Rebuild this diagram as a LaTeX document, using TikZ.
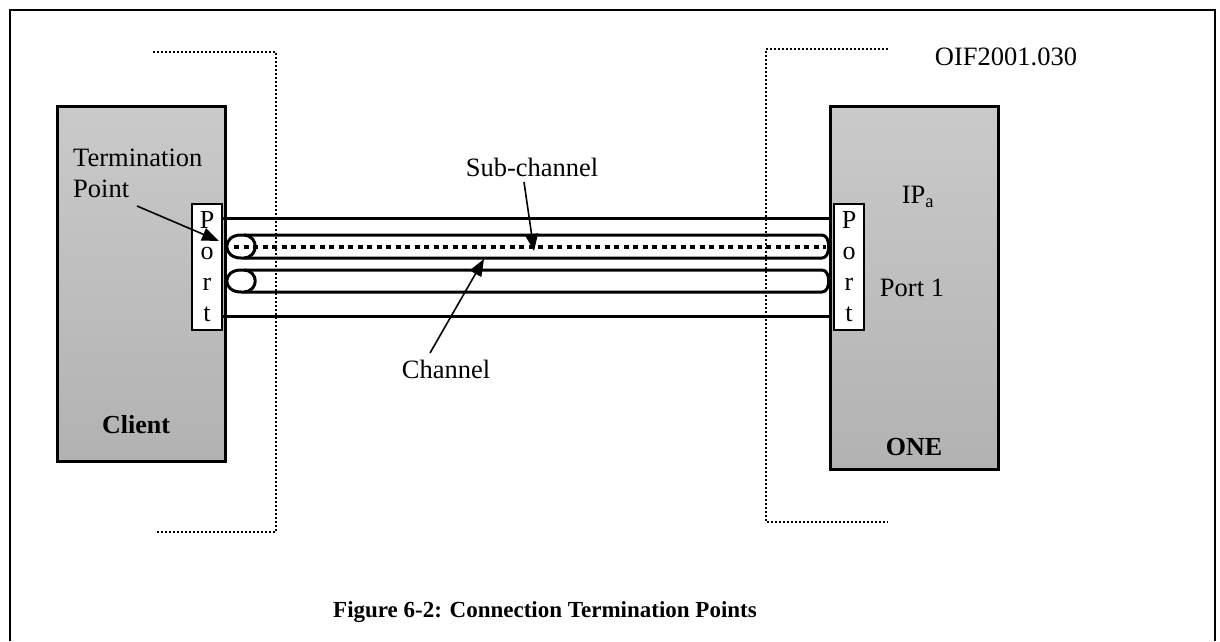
\documentclass[tikz,border=0pt]{standalone}
\usepackage{fontspec}
\setmainfont{Liberation Serif}
\usetikzlibrary{arrows.meta}
\definecolor{boxtop}{RGB}{202,202,202}
\definecolor{boxbot}{RGB}{178,178,178}
\begin{document}
\begin{tikzpicture}[x=1pt,y=-1pt,
  lbl/.style={font=\fontsize{26.5}{31}\selectfont, inner sep=0pt},
  bold/.style={font=\fontsize{26}{31}\selectfont\bfseries, inner sep=0pt},
  devbox/.style={draw, line width=3pt, top color=boxtop, bottom color=boxbot, inner sep=0pt},
  portbox/.style={draw, line width=1.6pt, fill=white, minimum width=30pt, minimum height=126pt, inner sep=0pt, align=center, font=\fontsize{26}{31}\selectfont},
  bound/.style={line width=1.8pt, dash pattern=on 2pt off 2pt},
  link/.style={line width=3pt},
  tube/.style={line width=3pt, line join=round},
  subch/.style={line width=4pt, dash pattern=on 5pt off 4.5pt},
  callout/.style={line width=1.6pt, -{Triangle[length=17pt,width=13pt]}},
  frame/.style={line width=2pt}]
\useasboundingbox (0,0) rectangle (1220,641);
% outer frame
\draw[frame] (10,641) -- (10,10) -- (1215,10) -- (1215,641);
% boundaries
\draw[bound] (153,52) -- (276,52) -- (276,532) -- (155,532);
\draw[bound] (888,49) -- (766,49) -- (766,522) -- (888,522);
% devices
\node[devbox, minimum width=168pt, minimum height=355pt] (client) at (141,283.5) {};
\node[devbox, minimum width=168pt, minimum height=363pt] (one) at (914,287.5) {};
\node[portbox] (lport) at (207,267) {P\\o\\r\\t};
\node[portbox] (rport) at (849,267) {P\\o\\r\\t};
% outer channel lines
\draw[link] (lport.east |- 0,218) -- (one.west |- 0,218);
\draw[link] (lport.east |- 0,316) -- (one.west |- 0,316);
% tubes
\foreach \yt/\yb in {235/258, 270/292}{
  \draw[tube] (241,\yt) -- (822,\yt) .. controls (831,\yt) and (831,\yb) .. (822,\yb) -- (241,\yb)
     .. controls (222,\yb) and (222,\yt) .. (241,\yt) -- cycle;
  \draw[tube] (244,\yt) .. controls (259,\yt+1) and (259,\yb-1) .. (244,\yb);
}
\draw[subch] (234,246.5) -- (826,246.5);
% labels
\node[lbl, align=left, anchor=west] (tp) at (73,173.5) {Termination\\Point};
\node[lbl] (sub) at (532,167) {Sub-channel};
\node[lbl] (chan) at (446,369) {Channel};
\node[lbl] (ipa) at (918,197) {IP\textsubscript{a}};
\node[lbl] (p1) at (912,288) {Port 1};
\node[lbl] (oif) at (1006,57) {OIF2001.030};
\node[bold] (cl) at (136,425) {Client};
\node[bold] (onel) at (914,447) {ONE};
\node[font=\fontsize{23}{27}\selectfont\bfseries, inner sep=0pt] (cap) at (545,612) {Figure 6-2: Connection Termination Points};
% callouts
\coordinate (tpS) at (137,206);
\coordinate (tpE) at (219,241);
\coordinate (subS) at (524,182);
\coordinate (subE) at (534,251);
\coordinate (chS) at (430,353);
\coordinate (chE) at (484,259);
\draw[callout] (tpS) -- (tpE);
\draw[callout] (subS) -- (subE);
\draw[callout] (chS) -- (chE);
\end{tikzpicture}
\end{document}
